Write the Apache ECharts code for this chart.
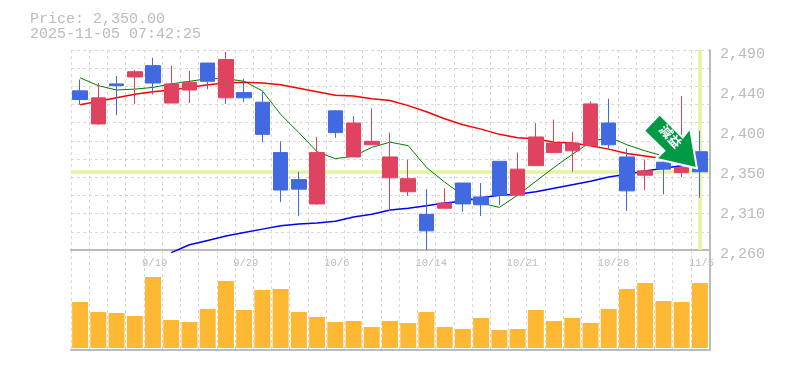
<!DOCTYPE html>
<html>
<head>
<meta charset="utf-8">
<style>
  html, body { margin: 0; padding: 0; background: #fff; }
  #chart { width: 785px; height: 370px; }
</style>
<script src="https://cdn.jsdelivr.net/npm/echarts@6/dist/echarts.min.js"></script>
</head>
<body>
<div id="chart"></div>
<script>
// one entry per trading day, oldest first
const dates = ['9/12','9/16','9/17','9/18','9/19','9/22','9/24','9/25','9/26','9/29','9/30','10/1','10/2','10/3','10/6','10/7','10/8','10/9','10/10','10/14','10/15','10/16','10/17','10/20','10/21','10/22','10/23','10/24','10/27','10/28','10/29','10/30','10/31','11/4','11/5']
const dateLabels = ['9/19','9/29','10/6','10/14','10/21','10/28','11/5']

// open, close, low, high
const candles = [
  [2443,2433,2427,2456],[2405,2435,2404,2452],[2451,2449,2415,2460],[2459,2465,2428,2467],[2472,2452,2439,2481],
  [2429,2451,2429,2472],[2444,2453,2429,2466],[2475,2454,2445,2475],[2435,2479,2428,2488],[2441,2435,2430,2457],
  [2430,2393,2384,2443],[2372,2329,2315,2385],[2341,2330,2299,2350],[2313,2372,2312,2390],[2420,2395,2389,2421],
  [2367,2406,2367,2414],[2381,2385,2381,2423],[2343,2367,2305,2395],[2327,2342,2322,2364],[2301,2282,2260,2330],
  [2308,2314,2308,2331],[2337,2313,2304,2337],[2321,2312,2299,2337],[2362,2323,2312,2362],[2323,2353,2323,2372],
  [2357,2390,2357,2406],[2372,2383,2372,2410],[2374,2383,2350,2396],[2380,2428,2380,2431],[2406,2381,2377,2434],
  [2367,2328,2305,2377],[2346,2351,2329,2364],[2361,2353,2324,2369],[2349,2355,2344,2437],[2373,2350,2320,2397]
]
const maShort = [2458,2449,2444,2445,2447,2451,2454,2457,2457,2454,2443,2416,2395,2373,2365,2368,2378,2384,2380,2355,2338,2323,2314,2309,2323,2339,2355,2370,2384,2390,2381,2374,2368,2361,2358]
const maMid = [2427,2431,2435,2439,2442,2444,2447,2450,2452,2453,2452,2450,2446,2442,2438,2437,2434,2432,2426,2419,2411,2404,2399,2393,2389,2388,2384,2383,2380,2376,2371,2368,2365,2363,2361]
const maLong = [null,null,null,null,null,2257,2266,2271,2276,2280,2284,2288,2290,2291,2293,2298,2301,2306,2308,2311,2314,2316,2320,2323,2324,2327,2331,2335,2339,2344,2347,2351,2354,2357,2359]
// relative volume, the picture has no scale for it
const volumes = [46,36,35,32,71,28,26,39,67,38,58,59,36,31,26,27,21,27,25,36,21,19,30,18,19,38,27,30,25,39,59,65,47,46,65]

const priceTicks = [2260,2306,2352,2398,2444,2490]
const priceLabels = ['2,260','2,310','2,350','2,400','2,440','2,490']
const gridTicks = [2260,2280.9,2301.8,2322.7,2343.6,2364.5,2385.5,2406.4,2427.3,2448.2,2469.1,2490]
const lastPrice = 2350

const labelGrey = '#bbbbbb'
const gridGrey = '#d8d8d8'
const highlight = '#e3f4a0'
const monoFont = '"Liberation Mono", monospace'

const myChart = echarts.init(document.getElementById('chart'), null, { renderer: 'canvas' })

const catAxis = (gridIndex) => ({
  type: 'category',
  gridIndex,
  data: dates,
  boundaryGap: true,
  axisLine: { show: true, onZero: false, lineStyle: { color: labelGrey, width: 2 } },
  axisTick: { show: false },
  splitLine: { show: true, interval: 0, lineStyle: { color: gridGrey, type: [3, 3] } }
})

myChart.setOption({
  animation: false,
  backgroundColor: '#fff',
  title: {
    text: 'Price: 2,350.00\n2025-11-05 07:42:25',
    left: 25,
    top: 7,
    textStyle: { fontFamily: monoFont, fontSize: 15, fontWeight: 'normal', color: labelGrey, lineHeight: 15 }
  },
  grid: [
    { left: 71, top: 50, width: 638, height: 200 },
    { left: 71, top: 250, width: 638, height: 100 }
  ],
  xAxis: [
    {
      ...catAxis(0),
      axisLabel: {
        show: true,
        interval: 0,
        margin: 8,
        // labels start a fixed 11px left of their candle
        formatter: (v) => (dateLabels.includes(v) ? '{d|' + v + '}' : ''),
        rich: { d: { width: 22, align: 'left', fontFamily: monoFont, fontSize: 10.5, color: labelGrey } }
      }
    },
    { ...catAxis(1), axisLabel: { show: false } }
  ],
  yAxis: [
    {
      type: 'value',
      gridIndex: 0,
      position: 'right',
      offset: 1,
      min: 2260,
      max: 2490,
      axisLine: { show: true, lineStyle: { color: labelGrey, width: 2 } },
      axisTick: { show: false, customValues: gridTicks },
      axisLabel: {
        customValues: priceTicks,
        margin: 10,
        fontFamily: monoFont,
        fontSize: 15,
        color: labelGrey,
        verticalAlign: 'top',
        lineHeight: 8,
        formatter: (v) => priceLabels[priceTicks.indexOf(v)]
      },
      splitLine: { show: true, lineStyle: { color: gridGrey, type: [3, 3] } }
    },
    {
      type: 'value',
      gridIndex: 1,
      position: 'right',
      offset: 1,
      min: -2,
      max: 98,
      axisLine: { show: true, lineStyle: { color: labelGrey, width: 2 } },
      axisTick: { show: false },
      axisLabel: { show: false },
      splitLine: { show: false }
    }
  ],
  series: [
    {
      name: 'last',
      type: 'line',
      data: [],
      z: 1,
      silent: true,
      markLine: {
        z: 1,
        symbol: 'none',
        silent: true,
        label: { show: false },
        animation: false,
        data: [
          { yAxis: lastPrice, lineStyle: { color: highlight, width: 3.5, type: 'solid' } },
          { xAxis: dates[dates.length - 1], lineStyle: { color: highlight, width: 3.5, type: 'solid' } }
        ]
      }
    },
    { name: 'MA long', type: 'line', data: maLong, z: 2, clip: false, symbol: 'none', lineStyle: { color: '#0000ff', width: 1.5 } },
    { name: 'MA mid', type: 'line', data: maMid, z: 2, symbol: 'none', lineStyle: { color: '#ff0000', width: 1.5 } },
    { name: 'MA short', type: 'line', data: maShort, z: 2, symbol: 'none', lineStyle: { color: '#008000', width: 1 } },
    {
      name: 'price',
      type: 'candlestick',
      data: candles,
      z: 3,
      barWidth: 15,
      itemStyle: { color: '#e0435f', color0: '#4169e1', borderColor: '#e0435f', borderColor0: '#4169e1', borderWidth: 1 },
      markPoint: {
        silent: true,
        z: 5,
        data: [{
          // event arrow pointing at the last candle
          coord: [dates[32], 2385],
          symbol: 'path://M15 0 L37 22 L44 13 L50.5 51 L11.5 42 L19.5 34.5 L0 15.5 Z',
          symbolSize: [53, 54],
          symbolOffset: [7, 0],
          itemStyle: { color: '#009a44', borderColor: '#ffffff', borderWidth: 2 },
          label: {
            show: true,
            position: 'inside',
            formatter: '減益',
            rotate: -48,
            offset: [-3.5, -3.5],
            fontFamily: '"Noto Sans CJK JP"',
            fontWeight: 'bold',
            fontSize: 13,
            color: '#ffffff'
          }
        }]
      }
    },
    {
      name: 'volume',
      type: 'bar',
      xAxisIndex: 1,
      yAxisIndex: 1,
      data: volumes,
      barWidth: 16,
      itemStyle: { color: '#ffb833' }
    }
  ]
})
</script>
</body>
</html>
